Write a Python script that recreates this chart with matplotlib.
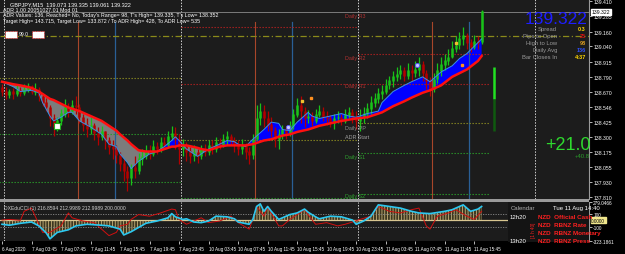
import matplotlib.pyplot as plt
import matplotlib.patches as mpatches
import matplotlib.transforms as mtransforms
import numpy as np

plt.rcParams['font.family'] = ['Liberation Sans', 'DejaVu Sans']
plt.rcParams['hatch.linewidth'] = 0.6

# GBPJPY bars, index 0 = 6 Aug 23:45 (one screen slot per 30 min)
closes = [138.67, 138.64, 138.67, 138.65, 138.68, 138.66, 138.69, 138.71, 138.67, 138.69,
          138.63, 138.58, 138.54, 138.45, 138.38, 138.43, 138.49, 138.54, 138.51, 138.56,
          138.54, 138.46, 138.40, 138.36, 138.39, 138.33, 138.30, 138.34, 138.27, 138.22,
          138.20, 138.15, 138.08, 138.02, 137.96, 138.05, 138.02, 138.12, 138.14, 138.18,
          138.16, 138.22, 138.20, 138.25, 138.23, 138.30, 138.33, 138.28, 138.20, 138.23,
          138.18, 138.14, 138.17, 138.14, 138.20, 138.18, 138.23, 138.20, 138.25, 138.23,
          138.28, 138.30, 138.27, 138.23, 138.20, 138.23, 138.18, 138.15, 138.28, 138.45,
          138.51, 138.45, 138.40, 138.35, 138.28, 138.32, 138.36, 138.33, 138.39, 138.48,
          138.56, 138.51, 138.45, 138.47, 138.43, 138.48, 138.51, 138.46, 138.45, 138.41,
          138.45, 138.46, 138.43, 138.48, 138.50, 138.46, 138.43, 138.46, 138.49, 138.53,
          138.58, 138.61, 138.65, 138.67, 138.72, 138.76, 138.79, 138.81, 138.84, 138.80,
          138.84, 138.82, 138.85, 138.89, 138.82, 138.76, 138.69, 138.77, 138.84, 138.89,
          138.92, 138.95, 139.02, 139.05, 139.10, 139.13, 139.07, 139.03, 139.08, 139.07,
          139.322]
highs = [138.73, 138.71, 138.69, 138.70, 138.72, 138.71, 138.73, 138.74, 138.72, 138.74,
         138.71, 138.66, 138.62, 138.56, 138.49, 138.46, 138.53, 138.61, 138.58, 138.60,
         138.63, 138.57, 138.49, 138.45, 138.46, 138.41, 138.38, 138.39, 138.35, 138.30,
         138.27, 138.23, 138.18, 138.12, 138.06, 138.08, 138.14, 138.17, 138.20, 138.23,
         138.23, 138.27, 138.26, 138.30, 138.30, 138.35, 138.39, 138.38, 138.32, 138.28,
         138.26, 138.22, 138.23, 138.20, 138.23, 138.24, 138.27, 138.27, 138.30, 138.29,
         138.32, 138.35, 138.32, 138.30, 138.27, 138.28, 138.25, 138.22, 138.32, 138.56,
         138.58, 138.56, 138.51, 138.46, 138.38, 138.36, 138.40, 138.39, 138.43, 138.53,
         138.62, 138.63, 138.54, 138.52, 138.50, 138.53, 138.56, 138.54, 138.51, 138.48,
         138.49, 138.51, 138.49, 138.53, 138.54, 138.53, 138.51, 138.53, 138.54, 138.58,
         138.63, 138.66, 138.70, 138.72, 138.77, 138.80, 138.84, 138.87, 138.89, 138.87,
         138.90, 138.89, 138.92, 138.95, 138.92, 138.85, 138.79, 138.82, 138.90, 138.95,
         138.98, 139.02, 139.08, 139.12, 139.16, 139.20, 139.15, 139.10, 139.13, 139.12,
         139.335]
lows = [138.63, 138.61, 138.62, 138.61, 138.63, 138.63, 138.64, 138.67, 138.65, 138.64,
        138.59, 138.55, 138.51, 138.39, 138.31, 138.35, 138.40, 138.46, 138.46, 138.49,
        138.49, 138.41, 138.35, 138.30, 138.32, 138.27, 138.23, 138.27, 138.20, 138.16,
        138.12, 138.09, 138.02, 137.94, 137.86, 137.91, 137.96, 138.00, 138.07, 138.12,
        138.12, 138.14, 138.16, 138.18, 138.20, 138.22, 138.27, 138.20, 138.08, 138.14,
        138.10, 138.09, 138.10, 138.09, 138.12, 138.14, 138.15, 138.16, 138.18, 138.20,
        138.22, 138.23, 138.23, 138.18, 138.15, 138.16, 138.12, 138.08, 138.12, 138.27,
        138.40, 138.38, 138.35, 138.30, 138.22, 138.20, 138.28, 138.28, 138.31, 138.36,
        138.46, 138.41, 138.38, 138.41, 138.39, 138.41, 138.46, 138.43, 138.40, 138.38,
        138.36, 138.41, 138.40, 138.41, 138.45, 138.41, 138.36, 138.35, 138.41, 138.45,
        138.49, 138.54, 138.58, 138.61, 138.65, 138.69, 138.71, 138.76, 138.77, 138.76,
        138.77, 138.76, 138.79, 138.80, 138.76, 138.69, 138.63, 138.67, 138.74, 138.80,
        138.85, 138.89, 138.94, 138.99, 139.02, 139.05, 139.02, 138.99, 139.02, 139.02,
        139.061]
first_open = 138.70
last_open = 139.073

# moving averages (slow red, fast blue)
ma_idx = [0, 3, 5, 8, 10, 11, 13, 14, 16, 18, 19, 21, 24, 27, 29, 31, 32, 34, 35, 37,
          39, 40, 42, 44, 46, 47, 48, 50, 53, 54, 56, 59, 61, 63, 64, 66, 68, 71, 73, 75,
          76, 78, 80, 83, 84, 86, 89, 92, 94, 96, 99, 102, 103, 106, 109, 111, 114, 116,
          119, 122, 124, 126, 129, 130]
slow_ma = [138.75, 138.73, 138.72, 138.70, 138.67, 138.65, 138.61, 138.60, 138.57, 138.54,
           138.53, 138.51, 138.47, 138.43, 138.39, 138.35, 138.32, 138.27, 138.24, 138.19,
           138.18, 138.18, 138.18, 138.20, 138.22, 138.22, 138.23, 138.23, 138.21, 138.20,
           138.19, 138.22, 138.23, 138.23, 138.23, 138.23, 138.24, 138.27, 138.28, 138.30,
           138.31, 138.32, 138.34, 138.36, 138.37, 138.39, 138.41, 138.43, 138.44, 138.45,
           138.46, 138.49, 138.50, 138.55, 138.59, 138.62, 138.66, 138.68, 138.72, 138.79,
           138.82, 138.85, 138.92, 138.96]
fast_ma = [138.75, 138.71, 138.67, 138.68, 138.66, 138.58, 138.47, 138.43, 138.46, 138.50,
           138.50, 138.43, 138.38, 138.32, 138.24, 138.22, 138.16, 138.09, 138.04, 138.10,
           138.14, 138.16, 138.18, 138.22, 138.27, 138.30, 138.27, 138.20, 138.14, 138.16,
           138.20, 138.24, 138.27, 138.26, 138.24, 138.22, 138.28, 138.36, 138.42, 138.41,
           138.36, 138.35, 138.42, 138.50, 138.47, 138.45, 138.47, 138.49, 138.47, 138.46,
           138.49, 138.51, 138.58, 138.67, 138.72, 138.75, 138.79, 138.75, 138.83, 138.88,
           138.94, 138.98, 139.07, 139.10]

# pivot levels: (start, end, price, kind)
levels = [(-1, 48.5, 138.78, 'pp'), (-1, 48.5, 138.32, 's'), (-1, 48.5, 137.93, 's'),
          (48.5, 96.5, 139.20, 'r'), (48.5, 96.5, 138.73, 'r'), (48.5, 96.5, 138.27, 'pp'),
          (48.5, 96.5, 137.80, 's'),
          (96.5, 132, 138.98, 'r'), (96.5, 132, 138.73, 'r'), (96.5, 132, 138.41, 'pp'),
          (96.5, 132, 138.17, 's'), (96.5, 132, 137.83, 's')]
level_labels = [('Daily R3', 139.29, '#b03030'), ('Daily R2', 138.95, '#b03030'),
                ('Daily R1', 138.72, '#b03030'), ('Daily PP', 138.38, '#8c8c8c'),
                ('ADR Start', 138.30, '#a0a0a0'), ('Daily S1', 138.14, '#2fa02f'),
                ('Daily S2', 137.82, '#2fa02f')]
adr_line = 139.12
bid = 139.322
adr_bar = [138.35, 138.61, 138.87]

day_sep = [0.5, 48.5, 96.5, 144.5]
orange_sess = [20.5, 68.5, 116.5]
blue_sess = [30.5, 78.5, 126.5]

price_ticks = [139.410, 139.285, 139.160, 139.040, 138.915, 138.790, 138.670, 138.546,
               138.425, 138.300, 138.175, 138.055, 137.930, 137.810]

time_pos = list(range(0, 129, 8))
time_labels = ['6 Aug 2020', '7 Aug 03:45', '7 Aug 07:45', '7 Aug 11:45', '7 Aug 15:45',
               '7 Aug 19:45', '7 Aug 23:45', '10 Aug 03:45', '10 Aug 07:45', '10 Aug 11:45',
               '10 Aug 15:45', '10 Aug 19:45', '10 Aug 23:45', '11 Aug 03:45',
               '11 Aug 07:45', '11 Aug 11:45', '11 Aug 15:45']

# CCI indicator
cci_idx = [0, 2, 5, 8, 10, 12, 13, 15, 18, 20, 23, 27, 29, 32, 33, 35, 37, 39, 42, 45,
           46, 47, 49, 50, 52, 54, 56, 58, 61, 63, 64, 67, 68, 69, 70, 71, 72, 73, 75, 76,
           78, 80, 82, 83, 85, 86, 89, 92, 95, 96, 98, 100, 102, 105, 108, 111, 113, 116,
           120, 122, 125, 127, 129, 130]
cci_main = [-65, -80, -50, -30, -90, -200, -290, -190, -150, -90, -65, -80, -90, -140, -230,
            -180, -115, -50, -15, 35, 100, 50, 10, 20, -30, -40, -15, 60, 50, 20, -30, -65,
            10, 210, 250, 135, 210, 135, 10, 35, 85, 110, 170, 120, 50, 20, 60, 50, 0, -65,
            -15, 60, 235, 210, 185, 135, 110, 100, 135, 160, 235, 135, 170, 210]
red_idx = [0, 2, 5, 6, 8, 9, 11, 13, 16, 18, 19, 22, 25, 27, 29, 31, 32, 34, 35, 37, 40,
           43, 46, 47, 48, 50, 52, 54, 56, 59, 62, 64, 67, 68, 69, 71, 72, 75, 76, 78, 80,
           82, 83, 85, 88, 91, 93, 95, 97, 100, 102, 105, 108, 111, 113, 115, 116, 118,
           121, 123, 126, 128, 130]
cci_fast = [0, 10, -5, 135, 185, 60, -190, -190, -90, 110, 35, -15, -40, -140, -240, -190,
            -90, -65, 10, 85, 60, 110, 170, 160, 10, -65, -15, 35, -40, -15, 60, -40, -140,
            10, 210, 60, 200, -90, -90, 10, 85, 160, 80, -65, -40, -90, -65, -30, 10, 60,
            210, 135, 110, 160, 185, -90, -140, 60, 110, 160, 60, 10, 135]
cci_top, cci_bot = 279.0466, -323.1861

W, H = 625, 255
BG = '#1c1c1c'
fig = plt.figure(figsize=(W / 100, H / 100), dpi=100, facecolor='black')


def box(x0, y0, x1, y1):
    return [x0 / W, 1 - y1 / H, (x1 - x0) / W, (y1 - y0) / H]


def ftext(x, y, s, **kw):
    kw.setdefault('color', 'white')
    kw.setdefault('fontsize', 4.0)
    kw.setdefault('va', 'center')
    fig.text(x / W, 1 - y / H, s, **kw)


ax = fig.add_axes(box(0, 0, 589, 200), facecolor=BG)
ax2 = fig.add_axes(box(0, 203, 589, 242), facecolor=BG)
fig.patches.append(mpatches.Rectangle((0, 1 - 203 / H), 589 / W, 3 / H, transform=fig.transFigure,
                                      color='#9a9a9a', lw=0))

xmin, xmax = -0.54, 159.1
for a in (ax, ax2):
    a.set_xlim(xmin, xmax)
    for s in ('top', 'left', 'bottom'):
        a.spines[s].set_visible(False)
    a.spines['right'].set_color('#9a9a9a')
    a.spines['right'].set_linewidth(0.8)
    a.yaxis.tick_right()
    a.tick_params(axis='y', colors='white', labelsize=3.7, length=2, width=0.5, pad=1)
ax.set_ylim(137.792, 139.426)
ax.set_xticks([])

# vertical session / day lines
for d in day_sep:
    ax.axvline(d, color='#d0d0d0', lw=0.7, ls=(0, (1.5, 1.5)))
    ax2.axvline(d, color='#d0d0d0', lw=0.7, ls=(0, (1.5, 1.5)))
for d in orange_sess:
    ax.axvline(d, ymin=0, ymax=0.885, color='#a8462a', lw=0.8)
for d in blue_sess:
    ax.axvline(d, ymin=0, ymax=0.885, color='#2a5f96', lw=0.9)

# pivot levels
kind_col = {'r': '#b02020', 'pp': '#8a8a22', 's': '#2a9a2a'}
for x0, x1, p, k in levels:
    ax.hlines(p, x0, x1, colors=kind_col[k], lw=0.8, linestyles=(0, (1.2, 1.5)))
for s, p, c in level_labels:
    ax.text(93.0, p, s, color=c, fontsize=3.9, va='center', ha='left')
ax.axhline(adr_line, color='#8a8a1a', lw=0.9, ls=(0, (5, 2, 1, 2)))
ax.axhline(bid, color='#8a8a8a', lw=0.6)

# MA ribbon
mi = np.array(ma_idx)
sm = np.array(slow_ma)
fm = np.array(fast_ma)
ax.fill_between(mi, sm, fm, where=fm <= sm, interpolate=True, color='#7c7c7c', lw=0)
ax.fill_between(mi, sm, fm, where=fm >= sm, interpolate=True, color='#0000ff', lw=0)

# candles
idx = np.arange(len(closes))
c = np.array(closes)
o = np.array([first_open] + closes[:-1])
o[-1] = last_open
h = np.array(highs)
l = np.array(lows)
col = np.where(c >= o, '#19c219', '#b40000')
ax.vlines(idx, l, h, colors=col, lw=0.9)
ax.vlines(idx, np.minimum(o, c), np.maximum(o, c) + 0.004, colors=col, lw=1.8)

ax.plot(mi, fm, color='#3a8fe8', lw=0.7)
ax.plot(mi, sm, color='#ff1010', lw=1.8)

# ADR range bar in the shift area
ax.vlines(133.3, adr_bar[1], adr_bar[2], colors='#22e022', lw=1.8)
ax.vlines(133.3, adr_bar[0], adr_bar[1], colors='#0f5a0f', lw=1.8)

# small signal markers
ax.plot(14.9, 138.39, marker='s', ms=5, mfc='white', mec='#20b020', mew=0.8)
ax.plot([77.5, 112.5], [138.38, 138.89], 'o', ms=3, mfc='#c8c8ff', mec='#5050ff', mew=0.6)
ax.plot([81.3, 123.0], [138.59, 139.07], 's', ms=2, mfc='#f0c030', mec='#f0c030')
ax.plot([83.7, 124.7], [138.62, 138.89], 's', ms=2, mfc='#ff9020', mec='#ff9020')

# price axis
ax.set_yticks(price_ticks)
ax.set_yticklabels(['%.3f' % t for t in price_ticks])
trans = mtransforms.blended_transform_factory(ax.transAxes, ax.transData)
ax.text(1.004, bid, '139.322', transform=trans, fontsize=3.7, color='black', va='center',
        ha='left', bbox=dict(boxstyle='square,pad=0.12', fc='white', ec='white'))

# indicator panel
ax2.set_ylim(cci_bot, cci_top)
ax2.fill_between(cci_idx, 0, cci_main, facecolor='#3c3720', edgecolor='#c8b27a',
                 hatch='||||||', lw=0)
ax2.axhline(0, color='#d8c690', lw=0.9)
for lv in (100, -100):
    ax2.axhline(lv, color='#8a8a8a', lw=0.6, ls=(0, (1.5, 1.5)))
ax2.plot(red_idx, cci_fast, color='#d01010', lw=0.7)
ax2.plot(cci_idx, cci_main, color='#2cc8f0', lw=1.2)
ax2.set_yticks([cci_top, 100, -100, cci_bot])
ax2.set_yticklabels(['279.0466', '100', '-100', '-323.1861'])
ax2.tick_params(axis='y', labelsize=3.4)
trans2 = mtransforms.blended_transform_factory(ax2.transAxes, ax2.transData)
ax2.text(1.004, 0, '0.0000', transform=trans2, fontsize=3.4, color='black', va='center',
         ha='left', bbox=dict(boxstyle='square,pad=0.1', fc='#f0e68c', ec='#f0e68c'))
ax2.text(0.006, 0.86, 'DXEduCCI (1) 216.8594 212.9989 212.9989 200.0000', transform=ax2.transAxes,
         color='#d0d0d0', fontsize=3.6, va='center')
ax2.set_xticks(time_pos)
ax2.set_xticklabels(time_labels, ha='left')
ax2.tick_params(axis='x', colors='white', labelsize=3.3, length=2, width=0.5, pad=1.5)

# calendar overlay
fig.patches.append(mpatches.Rectangle((508 / W, 1 - 243 / H), 81 / W, 40 / H,
                                      transform=fig.transFigure, color='#141414', lw=0))
ftext(511, 209, 'Calendar', color='#b0b0b0', fontsize=4.3)
ftext(553, 209, 'Tue 11 Aug 14:40', color='white', fontsize=4.3)
ftext(510, 218, '12h20', color='white', fontsize=4.3)
ftext(538, 218, 'NZD  Official Cash', color='#ff2020', fontsize=4.5, fontweight='bold')
ftext(538, 226, 'NZD  RBNZ Rate', color='#ff2020', fontsize=4.5, fontweight='bold')
ftext(538, 234, 'NZD  RBNZ Monetary', color='#ff2020', fontsize=4.5, fontweight='bold')
ftext(510, 242, '13h20', color='white', fontsize=4.3)
ftext(538, 242, 'NZD  RBNZ Press', color='#ff2020', fontsize=4.5, fontweight='bold')
ftext(533, 230, '[1 h 40]', color='#ff2020', fontsize=3.3, rotation=90, ha='center')

# header text
ftext(10, 5, 'GBPJPY,M15  139.073 139.335 139.061 139.322', fontsize=4.0)
ftext(3, 11, 'ADR 1.00 20051027.01 Mod 01', fontsize=3.8)
ftext(3, 16, "ADR Values: 136, Reached= No, Today's Range= 98, T's High= 139.335, T's Low= 138.352",
      fontsize=3.8)
ftext(3, 22, 'Target High= 143.715, Target Low= 133.872 / To ADR High= 428, To ADR Low= 535',
      fontsize=3.8)
for x0 in (5, 32):
    fig.patches.append(mpatches.Rectangle((x0 / W, 1 - 39 / H), 12 / W, 7 / H,
                                          transform=fig.transFigure, fc='white', ec='#e02020',
                                          lw=0.6, ls=(0, (1, 1))))
ftext(19, 35, '99.0', fontsize=3.6)

# info panel
ftext(587, 20, '139.322', color='#1e1eff', fontsize=12.5, ha='right')
info = [('Spread', '0.3', '#ffd700'), ('Pips to Open', '25', '#e01010'),
        ('High to Low', '98', '#e0a020'), ('Daily Avg', '136', '#3050ff'),
        ('Bar Closes In', '4:37', '#ffd700')]
for k, (lab, val, vc) in enumerate(info):
    ftext(557, 29.5 + 7 * k, lab, color='#9a9a9a', fontsize=4.2, ha='right')
    ftext(586, 29.5 + 7 * k, val, color=vc, fontsize=4.0, ha='right', fontweight='bold')
ftext(591, 146, '+21.0', color='#2ed82e', fontsize=13, ha='right')
ftext(590, 157, '+40.8', color='#2aa02a', fontsize=4.3, ha='right')

fig.savefig('out.png', dpi=100, facecolor='black')
